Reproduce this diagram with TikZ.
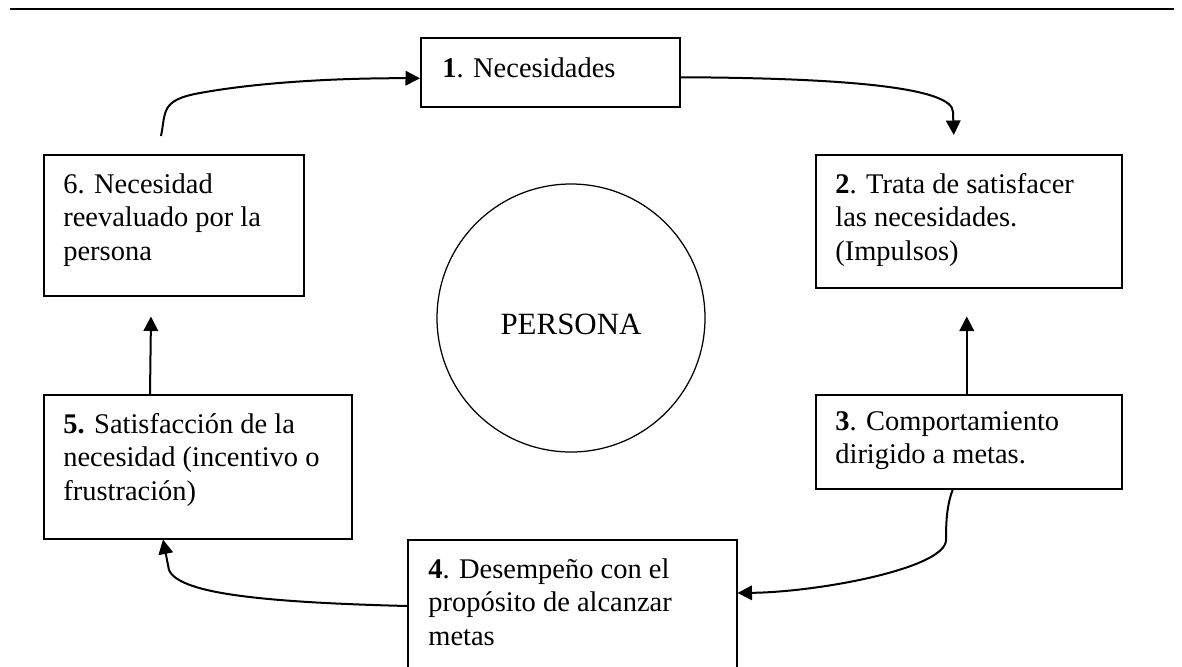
\documentclass[tikz,border=0pt]{standalone}
\usepackage{fontspec}
\setmainfont{Liberation Serif}
\usetikzlibrary{arrows.meta,calc}

\newcommand{\boxlines}[1]{\begin{tabular}[t]{@{}l@{}}#1\end{tabular}}

\begin{document}
\begin{tikzpicture}[x=0.2mm, y=-0.2mm,
  box/.style={draw, line width=0.3mm, rectangle, anchor=north west, inner sep=0pt},
  txt/.style={anchor=base west, inner sep=0pt, font=\fontsize{16.2}{19.3}\selectfont},
  arr/.style={-{Triangle[length=2.9mm, width=2.9mm]}, line width=0.4mm}]
\useasboundingbox (0,0) rectangle (1182,666);
\clip (0,0) rectangle (1182,666);

\draw[line width=0.4mm] (10,9)--(1174,9);

% the six steps
\node[box, minimum width=51.8mm, minimum height=13.8mm] (b1) at (420,37) {};
\node[box, minimum width=61.2mm, minimum height=26.6mm] (b2) at (815,154) {};
\node[box, minimum width=61.2mm, minimum height=18.8mm] (b3) at (815,394) {};
\node[box, minimum width=65.8mm, minimum height=30mm] (b4) at (407,539) {};
\node[box, minimum width=61.6mm, minimum height=28.8mm] (b5) at (43,394) {};
\node[box, minimum width=52mm, minimum height=28.2mm] (b6) at (43,154) {};

\node[txt] (t1) at ($(b1.north west)+(22,40)$) {\textbf{1}. Necesidades};
\node[txt] (t2) at ($(b2.north west)+(20,39)$) {\boxlines{\textbf{2}. Trata de satisfacer\\las necesidades.\\(Impulsos)}};
\node[txt] (t3) at ($(b3.north west)+(20,36)$) {\boxlines{\textbf{3}. Comportamiento\\dirigido a metas.}};
\node[txt] (t4) at ($(b4.north west)+(21,39)$) {\boxlines{\textbf{4}. Desempeño con el\\propósito de alcanzar\\metas}};
\node[txt] (t5) at ($(b5.north west)+(20,39)$) {\boxlines{\textbf{5.} Satisfacción de la\\necesidad (incentivo o\\frustración)}};
\node[txt] (t6) at ($(b6.north west)+(20,39)$) {\boxlines{6. Necesidad\\reevaluado por la\\persona}};

% centre
\node[draw, circle, line width=0.25mm, minimum size=53.6mm, inner sep=0pt,
  font=\fontsize{17.6}{21}\selectfont, text height=6.4mm, text depth=0pt] (persona) at (571,318) {PERSONA};

% cycle
\draw[arr] ($(b6.north west)+(118,-18)$) .. controls (166,112) and (160,100) .. (200,93)
  .. controls (260,82) and (340,78) .. ($(b1.west)+(0,6)$);
\draw[arr] ($(b1.east)+(0,5)$) .. controls (850,78) and (953,88) .. (953,112)
  -- ($(b2.north)+(-15,-19)$);
\draw[arr] ($(b3.north)+(-2,0)$) -- ($(b2.south)+(-2,28)$);
\draw[arr] ($(b3.south)+(-16,0)$) .. controls (947,505) and (946,520) .. (946,540)
  .. controls (946,568) and (820,592) .. ($(b4.north east)+(0,54)$);
\draw[arr] ($(b4.north west)+(0,67)$) .. controls (250,602) and (168,592) .. (168,565)
  -- ($(b5.south west)+(120,0)$);
\draw[arr] ($(b5.north west)+(107,0)$) -- ($(b6.south west)+(108,20)$);
\end{tikzpicture}
\end{document}
